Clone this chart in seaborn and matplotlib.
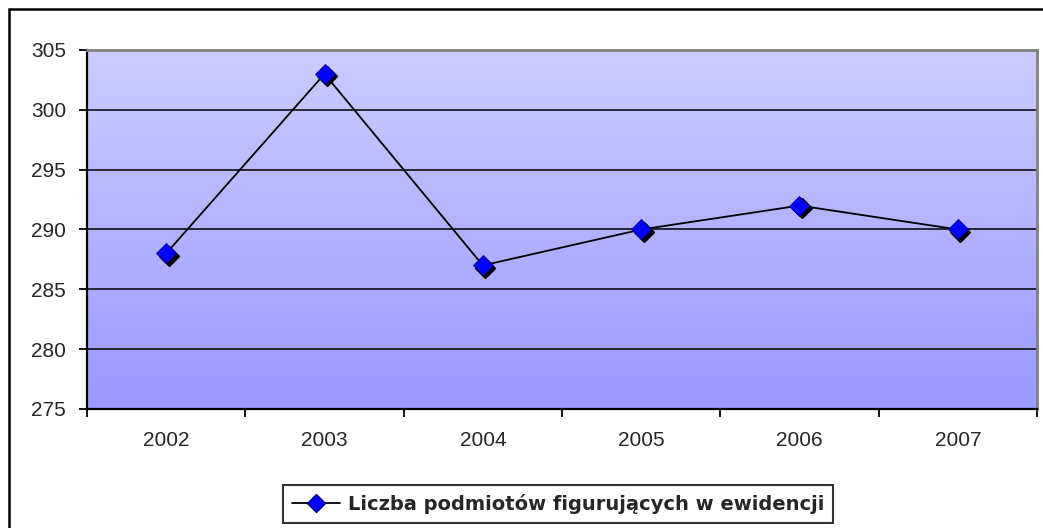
import numpy as np
import pandas as pd
import matplotlib
matplotlib.use("Agg")
import matplotlib.pyplot as plt
import matplotlib.transforms as mtransforms
from matplotlib.lines import Line2D
from matplotlib.patches import Rectangle
import seaborn as sns

# Dane
years = ["2002", "2003", "2004", "2005", "2006", "2007"]
counts = [288, 303, 287, 290, 292, 290]
y_ticks = [275, 280, 285, 290, 295, 300, 305]
series_name = "Liczba podmiotów figurujących w ewidencji"

sns.set_style("white")
plt.rcParams["font.family"] = ["Liberation Sans", "DejaVu Sans"]
plt.rcParams["xtick.bottom"] = True
plt.rcParams["ytick.left"] = True

df = pd.DataFrame({"rok": years, "liczba": counts})
df["pos"] = np.arange(len(years))

fig = plt.figure(figsize=(10.43, 5.28), dpi=100)
ax = fig.add_axes([87 / 1043, 1 - 409 / 528, 950 / 1043, 359 / 528])

# tlo z gradientem (jasne u gory)
grad = np.linspace(0, 1, 256).reshape(-1, 1)
cmap = matplotlib.colors.LinearSegmentedColormap.from_list("bg", ["#CCCCFF", "#9999FF"])
ax.imshow(grad, aspect="auto", cmap=cmap, extent=[-0.5, 5.5, 275, 305],
          origin="upper", zorder=0)

ax.set_xlim(-0.5, 5.5)
ax.set_ylim(275, 305)
ax.set_yticks(y_ticks)
for v in y_ticks[1:-1]:
    ax.axhline(v, color="black", lw=1.1, zorder=1)

# cien markerow
shadow = mtransforms.offset_copy(ax.transData, fig=fig, x=2.5, y=-2.5, units="dots")
ax.plot(df["pos"], df["liczba"], ls="none", marker="D", ms=10, color="black",
        transform=shadow, zorder=3)
sns.lineplot(data=df, x="pos", y="liczba", ax=ax, color="black", lw=1.3,
             marker="D", markersize=10, markerfacecolor="#0000FF",
             markeredgecolor="#000080", markeredgewidth=0.6, zorder=4)
ax.set_xlabel("")
ax.set_ylabel("")

ax.set_xticks(df["pos"])
ax.set_xticklabels(years)
ax.set_xticks(np.arange(-0.5, 6, 1), minor=True)
ax.tick_params(axis="x", which="major", length=0, pad=16, labelsize=15)
ax.tick_params(axis="x", which="minor", bottom=True, length=6, width=1.3,
               direction="out", color="black")
ax.tick_params(axis="y", which="major", left=True, length=6, width=1.3,
               direction="out", color="black", pad=9, labelsize=15)

for side in ["left", "bottom"]:
    ax.spines[side].set_color("black")
    ax.spines[side].set_linewidth(1.6)
for side in ["top", "right"]:
    ax.spines[side].set_visible(True)
    ax.spines[side].set_color("#808080")
    ax.spines[side].set_linewidth(2)

# legenda
handle = Line2D([], [], color="black", lw=1.3, marker="D", ms=9,
                markerfacecolor="#0000FF", markeredgecolor="#000080")
leg = fig.legend([handle], [series_name], loc="center",
                 bbox_to_anchor=(558 / 1043, 1 - 504 / 528), frameon=True,
                 fancybox=False, edgecolor="black", handlelength=2.5,
                 handletextpad=0.4, borderpad=0.45, borderaxespad=0,
                 prop={"family": "DejaVu Sans", "weight": "bold", "size": 14})
leg.get_frame().set_linewidth(1.5)

# ramka wykresu
fig.patches.append(Rectangle((9 / 1043, -0.05), 1.1, 1 - 9 / 528 + 0.05,
                             transform=fig.transFigure, fill=False,
                             edgecolor="black", lw=1.8))

fig.savefig("out.png", dpi=100)
